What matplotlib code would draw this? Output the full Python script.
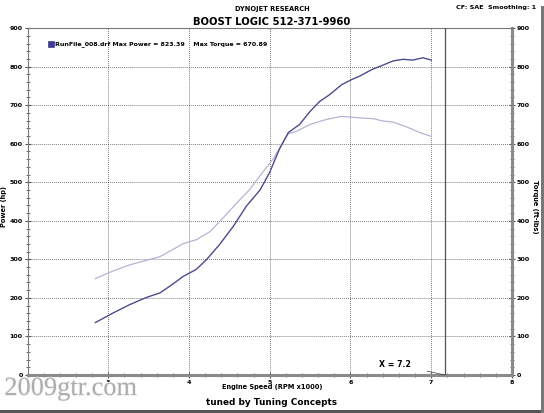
import matplotlib
matplotlib.use("Agg")
import matplotlib.pyplot as plt
from matplotlib.ticker import MultipleLocator
import matplotlib.patheffects as pe

# Data (RPM x1000)
power_rpm = [2.84, 3.06, 3.27, 3.47, 3.64, 3.76, 3.93, 4.09, 4.22, 4.38, 4.55, 4.71, 4.88,
             5.00, 5.12, 5.23, 5.37, 5.50, 5.62, 5.74, 5.89, 6.01, 6.12, 6.26, 6.38, 6.53,
             6.65, 6.77, 6.90, 7.00]
power_hp = [136, 161, 183, 201, 213, 230, 256, 274, 300, 339, 386, 438, 480,
            526, 586, 629, 650, 684, 710, 727, 753, 766, 776, 792, 802, 815,
            819, 817, 823, 817]
torque_rpm = [2.84, 3.06, 3.27, 3.43, 3.64, 3.76, 3.93, 4.09, 4.26, 4.42, 4.59, 4.75, 4.88,
              5.04, 5.23, 5.33, 5.50, 5.70, 5.89, 6.12, 6.28, 6.40, 6.53, 6.69, 6.86, 7.00]
torque_ftlb = [250, 270, 286, 295, 307, 321, 341, 351, 372, 407, 446, 481, 517,
               560, 626, 632, 650, 663, 671, 667, 665, 659, 656, 644, 629, 619]
x_ticks = [3, 4, 5, 6, 7, 8]
y_ticks = [0, 100, 200, 300, 400, 500, 600, 700, 800, 900]
cursor_x = 7.17

plt.rcParams['font.family'] = ['DejaVu Sans']
fig = plt.figure(figsize=(5.44, 4.13), dpi=100)
ax = fig.add_axes([0.0506, 0.092, 0.8905, 0.840])

ax.set_xlim(2, 8)
ax.set_ylim(0, 900)

ax.plot(torque_rpm, torque_ftlb, color='#b4b4d2', lw=0.9, zorder=3)
ax.plot(power_rpm, power_hp, color='#4c4c8e', lw=1.0, zorder=4)

ax.axvline(cursor_x, color='#555555', lw=0.9, zorder=5)

ax.set_xticks(x_ticks)
ax.set_yticks(y_ticks)
ax.xaxis.set_minor_locator(MultipleLocator(0.2))
ax.yaxis.set_minor_locator(MultipleLocator(20))
ax.grid(True, which='major', color='#333333', linestyle=(0, (1.0, 1.6)), lw=0.55)
ax.tick_params(which='both', direction='inout', colors='#555555', labelcolor='black',
               labelsize=4.6, right=True, labelright=True, top=False)
ax.tick_params(which='major', length=4, width=0.8, pad=1.5)
ax.tick_params(which='minor', length=3, width=0.6)
for lab in ax.get_xticklabels() + ax.yaxis.get_ticklabels(which='both'):
    lab.set_fontweight('bold')
for lab in ax.yaxis.get_majorticklabels():
    lab.set_fontweight('bold')
for t in ax.yaxis.get_major_ticks():
    t.label2.set_fontweight('bold')

for s in ['left', 'top']:
    ax.spines[s].set_color('#777777')
    ax.spines[s].set_linewidth(0.8)
for s in ['right', 'bottom']:
    ax.spines[s].set_color('#8a8a8a')
    ax.spines[s].set_linewidth(2.2)

# Titles and labels
fig.text(0.5, 0.985, 'DYNOJET RESEARCH', ha='center', va='top', fontsize=4.8, fontweight='bold')
fig.text(0.5, 0.958, 'BOOST LOGIC 512-371-9960', ha='center', va='top', fontsize=7.2, fontweight='bold')
fig.text(0.986, 0.987, 'CF: SAE  Smoothing: 1', ha='right', va='top', fontsize=4.6, fontweight='bold')
fig.text(0.5, 0.063, 'Engine Speed (RPM x1000)', ha='center', va='center', fontsize=4.8, fontweight='bold')
fig.text(0.5, 0.026, 'tuned by Tuning Concepts', ha='center', va='center', fontsize=6.4, fontweight='bold')
fig.text(0.008, 0.5, 'Power (hp)', rotation=90, ha='center', va='center', fontsize=4.8, fontweight='bold')
fig.text(0.983, 0.5, 'Torque (ft-lbs)', rotation=-90, ha='center', va='center', fontsize=4.8, fontweight='bold')

# legend line
fig.patches.append(plt.Rectangle((0.088, 0.885), 0.011, 0.016, transform=fig.transFigure,
                                 facecolor='#3a3aa0', edgecolor='#222266', lw=0.4))
fig.text(0.101, 0.893, 'RunFile_008.drf Max Power = 823.39    Max Torque = 670.89',
         ha='left', va='center', fontsize=4.5, fontweight='bold')

# cursor annotation
ax.annotate('X = 7.2', xy=(cursor_x, 0), xytext=(6.55, 28), fontsize=5.6, fontweight='bold',
            ha='center', va='center',
            arrowprops=dict(arrowstyle='-', color='#333333', lw=0.5, shrinkA=10, shrinkB=0))

# watermark
fig.text(0.008, 0.058, '2009gtr.com', ha='left', va='center', fontsize=19,
         family='Liberation Serif', color='#a8a8a8', alpha=0.9,
         path_effects=[pe.withStroke(linewidth=1.2, foreground='#f4f4f4')])

# frame shadow
fig.patches.append(plt.Rectangle((0.0, 0.0), 0.995, 0.008, transform=fig.transFigure,
                                 facecolor='#555555', edgecolor='none'))
fig.patches.append(plt.Rectangle((0.994, 0.0), 0.006, 0.985, transform=fig.transFigure,
                                 facecolor='#777777', edgecolor='none'))

fig.savefig('out.png', dpi=100)
